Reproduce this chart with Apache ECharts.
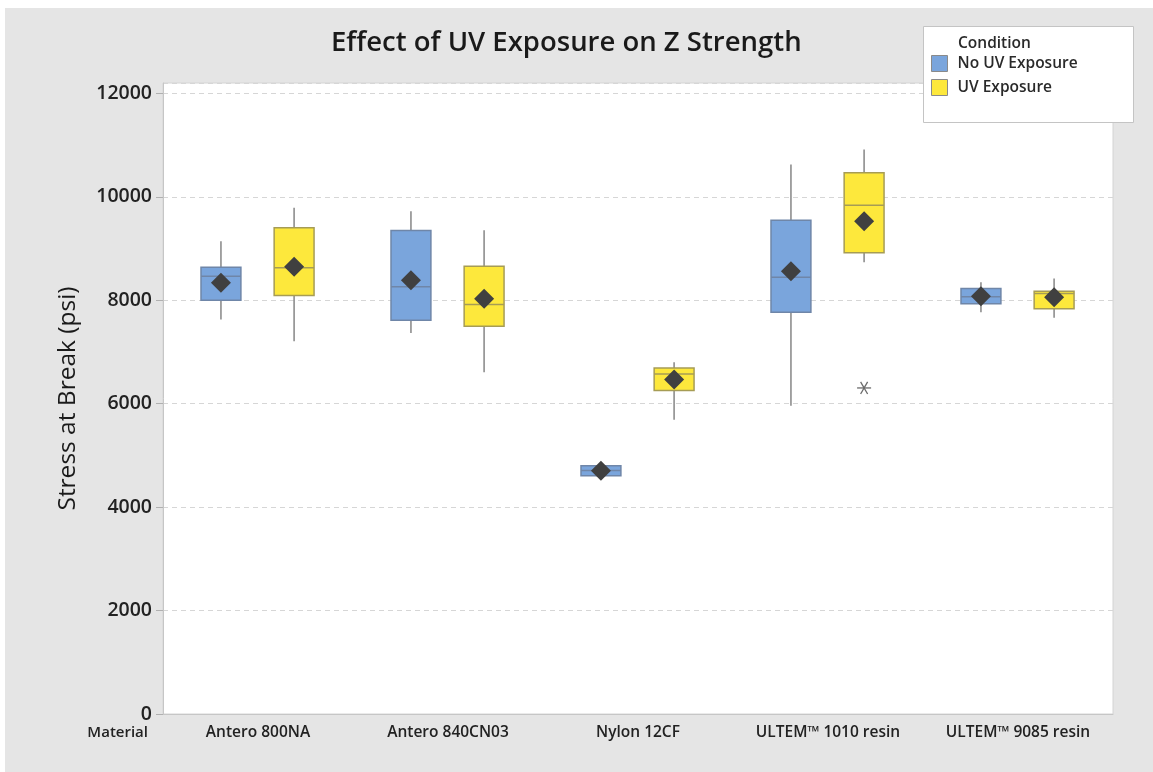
<!DOCTYPE html>
<html>
<head>
<meta charset="utf-8">
<script src="https://cdn.jsdelivr.net/npm/echarts@6/dist/echarts.min.js"></script>
<style>
    html, body { margin: 0; padding: 0; background: #fff; }
    #main { width: 1153px; height: 772px; }
</style>
</head>
<body>
<div id="main"></div>
<script>
var materials = ['Antero 800NA', 'Antero 840CN03', 'Nylon 12CF', 'ULTEM\u2122 1010 resin', 'ULTEM\u2122 9085 resin'];

// min, Q1, median, Q3, max
var noUvBox = [
    [7626, 8000, 8464, 8638, 9142],
    [7368, 7612, 8259, 9349, 9722],
    [4570, 4607, 4709, 4800, 4820],
    [5961, 7767, 8445, 9548, 10626],
    [7767, 7930, 8065, 8226, 8348]
];
var uvBox = [
    [7206, 8090, 8627, 9401, 9788],
    [6606, 7496, 7916, 8658, 9354],
    [5690, 6257, 6575, 6691, 6800],
    [8735, 8917, 9838, 10465, 10916],
    [7659, 7833, 8129, 8174, 8419]
];
var noUvMean = [8336, 8387, 4703, 8561, 8077];
var uvMean = [8646, 8027, 6465, 9529, 8058];
var uvOutliers = [[3, 6304]];

var yTicks = { min: 0, max: 12200, interval: 2000 };

var chart = echarts.init(document.getElementById('main'));

function boxData(boxes, means) {
    return boxes.map(function (b, i) {
        return [i].concat(b, [means[i]]);
    });
}

// draws whisker, box, median and mean diamond, shifted left/right inside the band
function boxRenderer(offset, fill, edge) {
    return function (params, api) {
        var i = api.value(0);
        var band = api.size([1, 0])[0];
        var cx = api.coord([i, 0])[0] + offset * band;
        var w = band * 0.21;
        var y = function (k) { return api.coord([i, api.value(k)])[1]; };
        var yMin = y(1), yQ1 = y(2), yMed = y(3), yQ3 = y(4), yMax = y(5), yMean = y(6);
        var d = 10;
        return {
            type: 'group',
            children: [
                { type: 'line', shape: { x1: cx, y1: yMax, x2: cx, y2: yMin },
                  style: { stroke: '#8e8e8e', lineWidth: 1.6 } },
                { type: 'rect', shape: { x: cx - w / 2, y: yQ3, width: w, height: Math.max(yQ1 - yQ3, 1) },
                  style: { fill: fill, stroke: edge, lineWidth: 1.5 } },
                { type: 'line', shape: { x1: cx - w / 2, y1: yMed, x2: cx + w / 2, y2: yMed },
                  style: { stroke: edge, lineWidth: 1.5 } },
                { type: 'polygon', shape: { points: [[cx, yMean - d], [cx + d, yMean], [cx, yMean + d], [cx - d, yMean]] },
                  style: { fill: '#404040' } }
            ]
        };
    };
}

function outlierRenderer(offset) {
    return function (params, api) {
        var i = api.value(0);
        var band = api.size([1, 0])[0];
        var p = api.coord([i, api.value(1)]);
        var cx = p[0] + offset * band, cy = p[1];
        var r = 7;
        var s = { stroke: '#6a6a6a', lineWidth: 1.3 };
        var a = r * Math.cos(Math.PI / 3), b = r * Math.sin(Math.PI / 3);
        return {
            type: 'group',
            children: [
                { type: 'line', shape: { x1: cx - r, y1: cy, x2: cx + r, y2: cy }, style: s },
                { type: 'line', shape: { x1: cx - a, y1: cy - b, x2: cx + a, y2: cy + b }, style: s },
                { type: 'line', shape: { x1: cx + a, y1: cy - b, x2: cx - a, y2: cy + b }, style: s }
            ]
        };
    };
}

var font = 'Open Sans';

chart.setOption({
    backgroundColor: '#e5e5e5',
    animation: false,
    textStyle: { fontFamily: font },
    title: {
        text: 'Effect of UV Exposure on Z Strength',
        left: 326,
        top: 24,
        textStyle: { fontSize: 27.5, fontWeight: 600, color: '#1a1a1a', fontFamily: font }
    },
    graphic: [
        { type: 'rect', left: 0, top: 0, shape: { width: 1153, height: 8 }, style: { fill: '#fff' }, z: 1 },
        { type: 'rect', left: 0, top: 0, shape: { width: 5, height: 772 }, style: { fill: '#fff' }, z: 1 },
        { type: 'rect', left: 923, top: 26, shape: { width: 210, height: 96 },
          style: { fill: '#fff', stroke: '#c4c4c4', lineWidth: 1 }, z: 1 },
        { type: 'text', x: 958, y: 44,
          style: { text: 'Condition', fontSize: 15.5, fontWeight: 600, fill: '#2a2a2a', fontFamily: font,
                   align: 'left', verticalAlign: 'middle' }, z: 10 },
        { type: 'text', x: 148, y: 733,
          style: { text: 'Material', fontSize: 15, fontWeight: 600, fill: '#222', fontFamily: font,
                   align: 'right', verticalAlign: 'middle' }, z: 10 }
    ],
    legend: {
        orient: 'vertical',
        left: 923,
        top: 26,
        padding: [29, 10, 10, 8],
        itemWidth: 16,
        itemHeight: 16,
        itemGap: 7,
        icon: 'rect',
        itemStyle: { borderColor: '#8a8a8a', borderWidth: 1 },
        textStyle: { fontSize: 15.5, fontWeight: 600, color: '#2a2a2a', fontFamily: font, padding: [0, 0, 0, 5] },
        data: ['No UV Exposure', 'UV Exposure'],
        z: 5
    },
    grid: {
        left: 163,
        right: 40,
        top: 83,
        bottom: 58,
        show: true,
        backgroundColor: '#fff',
        borderColor: '#d4d4d4',
        borderWidth: 1
    },
    xAxis: {
        type: 'category',
        data: materials,
        axisLine: { lineStyle: { color: '#c6c6c6' } },
        axisTick: { alignWithLabel: true, length: 5, lineStyle: { color: '#b0b0b0' } },
        axisLabel: { interval: 0, hideOverlap: false, fontSize: 15.5, fontWeight: 600, color: '#222', margin: 11 },
        splitLine: { show: false }
    },
    yAxis: {
        type: 'value',
        min: yTicks.min,
        max: yTicks.max,
        interval: yTicks.interval,
        name: 'Stress at Break (psi)',
        nameLocation: 'middle',
        nameGap: 82,
        nameTextStyle: { fontSize: 24.5, color: '#1a1a1a' },
        axisLine: { show: true, lineStyle: { color: '#c6c6c6' } },
        axisTick: { show: true, length: 7, lineStyle: { color: '#b0b0b0' } },
        axisLabel: { fontSize: 19.5, fontWeight: 600, color: '#222', margin: 11, showMaxLabel: false,
                     formatter: function (v) { return String(v); } },
        splitLine: { lineStyle: { color: '#d6d6d6', type: [5, 4] } }
    },
    series: [
        {
            name: 'No UV Exposure',
            type: 'custom',
            itemStyle: { color: '#7aa5dc' },
            renderItem: boxRenderer(-0.195, '#7aa5dc', '#6f86a8'),
            encode: { x: 0, y: [1, 2, 3, 4, 5, 6] },
            data: boxData(noUvBox, noUvMean),
            z: 3
        },
        {
            name: 'UV Exposure',
            type: 'custom',
            itemStyle: { color: '#fde83c' },
            renderItem: boxRenderer(0.19, '#fde83c', '#a69c55'),
            encode: { x: 0, y: [1, 2, 3, 4, 5, 6] },
            data: boxData(uvBox, uvMean),
            z: 3
        },
        {
            name: 'UV Exposure',
            type: 'custom',
            itemStyle: { color: '#fde83c' },
            renderItem: outlierRenderer(0.19),
            encode: { x: 0, y: 1 },
            data: uvOutliers,
            z: 3
        }
    ]
});
</script>
</body>
</html>
